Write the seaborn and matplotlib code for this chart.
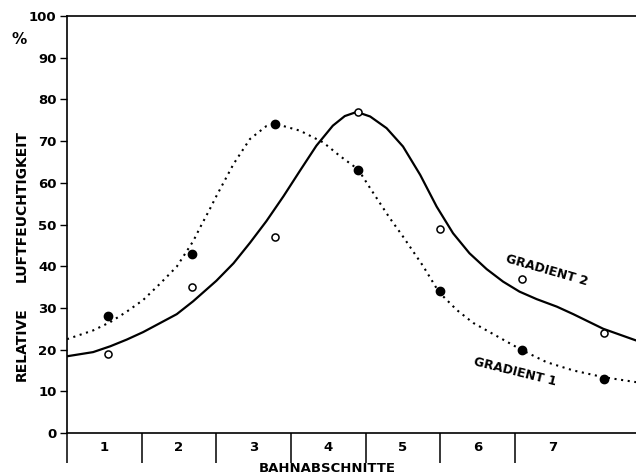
import matplotlib
matplotlib.use("Agg")
import matplotlib.pyplot as plt
import seaborn as sns
from matplotlib.ticker import FixedLocator, NullFormatter, FixedFormatter

# ---- data ----
sections = ["1", "2", "3", "4", "5", "6", "7"]
section_bounds = [0, 1, 2, 3, 4, 5, 6]
section_centers = [0.5, 1.5, 2.5, 3.5, 4.5, 5.5, 6.5]
y_ticks = [0, 10, 20, 30, 40, 50, 60, 70, 80, 90, 100]

# measured points (x in section units)
mess_x = [0.55, 1.67, 2.78, 3.90, 4.99, 6.09, 7.19]
gradient1_points = [28, 43, 74, 63, 34, 20, 13]
gradient2_points = [19, 35, 47, 77, 49, 37, 24]

# hand-drawn smoothing curves
curve1_x = [0.0, 0.35, 0.58, 0.80, 1.02, 1.24, 1.47, 1.69, 1.78, 1.91, 2.00,
            2.23, 2.45, 2.67, 2.78, 3.12, 3.43, 3.65, 3.90, 4.06, 4.32, 4.50,
            4.77, 4.98, 5.22, 5.44, 5.80, 6.09, 6.42, 6.78, 7.18, 7.62]
curve1_y = [22.5, 24.6, 26.6, 29.1, 31.9, 35.7, 39.9, 46.0, 49.2, 53.6, 56.8,
            64.5, 70.5, 73.6, 74.2, 72.5, 69.7, 66.5, 63.2, 58.7, 51.6, 47.1,
            40.0, 33.8, 29.5, 26.4, 22.8, 19.9, 17.0, 15.0, 13.4, 12.2]

curve2_x = [0.0, 0.35, 0.58, 0.80, 1.02, 1.24, 1.47, 1.69, 2.00, 2.23, 2.45,
            2.67, 2.90, 3.12, 3.34, 3.56, 3.72, 3.88, 4.06, 4.28, 4.50, 4.73,
            4.95, 5.17, 5.39, 5.62, 5.84, 6.06, 6.29, 6.56, 6.78, 7.18, 7.62]
curve2_y = [18.4, 19.4, 20.8, 22.4, 24.2, 26.3, 28.5, 31.6, 36.5, 40.7, 45.6,
            50.8, 56.8, 62.9, 68.9, 73.7, 76.0, 77.0, 75.9, 73.1, 68.7, 61.9,
            54.3, 47.9, 43.1, 39.3, 36.3, 33.9, 32.1, 30.3, 28.5, 25.0, 22.2]

# ---- figure ----
sns.set_theme(style="white")
plt.rcParams["font.family"] = ["DejaVu Sans"]

W, H = 636, 475
fig = plt.figure(figsize=(W / 100, H / 100), dpi=100)
ax = fig.add_axes([67 / W, 1 - 433 / H, 1 - 67 / W, (433 - 16) / H])

sns.lineplot(x=curve1_x, y=curve1_y, ax=ax, color="black", linewidth=1.5,
             linestyle=(0, (1, 2.2)), sort=False, estimator=None)
sns.lineplot(x=curve2_x, y=curve2_y, ax=ax, color="black", linewidth=1.6,
             sort=False, estimator=None)
sns.scatterplot(x=mess_x, y=gradient1_points, ax=ax, color="black",
                edgecolor="black", s=36, linewidth=1, zorder=4)
sns.scatterplot(x=mess_x, y=gradient2_points, ax=ax, color="white",
                edgecolor="black", s=26, linewidth=1.1, zorder=4)

ax.set_xlim(0, 7.62)
ax.set_ylim(0, 100)

for side in ["left", "bottom", "top"]:
    ax.spines[side].set_visible(True)
    ax.spines[side].set_color("black")
    ax.spines[side].set_linewidth(1.2)
ax.spines["right"].set_visible(False)

ax.xaxis.set_major_locator(FixedLocator(section_bounds))
ax.xaxis.set_major_formatter(NullFormatter())
ax.xaxis.set_minor_locator(FixedLocator(section_centers))
ax.xaxis.set_minor_formatter(FixedFormatter(sections))
ax.tick_params(axis="x", which="major", direction="out", length=21.6,
               width=1.1, color="black", bottom=True)
ax.tick_params(axis="x", which="minor", length=0, pad=6, labelsize=9.5,
               labelcolor="black", bottom=True)
ax.set_yticks(y_ticks)
ax.tick_params(axis="y", direction="out", length=5, width=1.0, pad=2.5,
               labelsize=9.5, labelcolor="black", color="black", left=True)
for lab in ax.get_xticklabels(minor=True) + ax.get_yticklabels():
    lab.set_fontweight("bold")
ax.set_xlabel("")
ax.set_ylabel("")

txt = dict(color="black", fontweight="bold")
ax.text(6.43, 39.1, "GRADIENT 2", rotation=-16, ha="center", va="center",
        fontsize=9, **txt)
ax.text(6.0, 14.6, "GRADIENT 1", rotation=-14, ha="center", va="center",
        fontsize=9, **txt)

fig.text(327 / W, 1 - 469 / H, "BAHNABSCHNITTE", ha="center", va="center",
         fontsize=9.5, **txt)
fig.text(22 / W, 1 - 206 / H, "LUFTFEUCHTIGKEIT", rotation=90, ha="center",
         va="center", fontsize=10, **txt)
fig.text(22 / W, 1 - 344 / H, "RELATIVE", rotation=90, ha="center",
         va="center", fontsize=10, **txt)
fig.text(19 / W, 1 - 40 / H, "%", ha="center", va="center", fontsize=11,
         **txt)

fig.savefig("out.png", dpi=100, facecolor="white")
